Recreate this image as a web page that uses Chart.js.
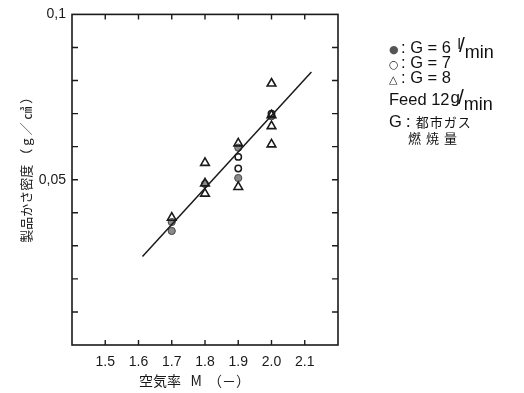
<!DOCTYPE html>
<html>
<head>
<meta charset="utf-8">
<script src="https://cdn.jsdelivr.net/npm/chart.js@4.4.1/dist/chart.umd.min.js"></script>
<style>
  html, body { margin: 0; padding: 0; background: #fff; }
  .wrap { position: relative; width: 524px; height: 393px; }
  canvas { position: absolute; left: 0; top: 0; }
  .legend { position: absolute; left: 389px; top: 0; font-family: "Liberation Sans", Arial, sans-serif; color: #111; font-size: 16.5px; }
  .legend div { position: absolute; white-space: nowrap; line-height: 16px; height: 16px; }
  .legend span { line-height: 0; }
  .sym { font-family: "DejaVu Sans", sans-serif; font-size: 11px; display: inline-block; width: 12px; }
  .frac-top { position: relative; top: -4px; font-size: 15px; margin-left: 2px; }
  .frac-slash { font-size: 21px; position: relative; left: -2px; top: -1px; }
  .frac-bot { position: relative; top: 5px; left: -2px; font-size: 18px; }
  .jp { font-family: "Noto Sans CJK JP", sans-serif; font-size: 13px; letter-spacing: 1px; }
</style>
</head>
<body>
<div class="wrap">
  <canvas id="chart" width="524" height="393"></canvas>
  <div class="legend">
    <div style="top:39px;"><span class="sym" style="color:#555;">●</span>: G = 6 <span class="frac-top">l</span><span class="frac-slash">/</span><span class="frac-bot">min</span></div>
    <div style="top:54px;"><span class="sym">○</span>: G = 7</div>
    <div style="top:69px;"><span class="sym">△</span>: G = 8</div>
    <div style="top:91px;">Feed 12<span class="frac-top" style="top:-2px; margin-left:1px; font-size:17px;">g</span><span class="frac-slash">/</span><span class="frac-bot">min</span></div>
    <div style="top:113px;">G<span class="jp">：都市ガス</span></div>
    <div style="top:129px; left:19px;"><span class="jp" style="letter-spacing:5px;">燃焼量</span></div>
  </div>
</div>
<script>
const xTickValues = [1.5, 1.6, 1.7, 1.8, 1.9, 2.0, 2.1];
const yTickLabels = { 10: "0,1", 5: "0,05" };

// G = 6 l/min (filled circles)
const g6X = [1.7, 1.7, 1.8, 1.9, 1.9, 2.0];
const g6Y = [0.0372, 0.0345, 0.0487, 0.0597, 0.0505, 0.0692];

// G = 7 (open circles)
const g7X = [1.9, 1.9, 2.0];
const g7Y = [0.0569, 0.0534, 0.0700];

// G = 8 (open triangles)
const g8X = [1.7, 1.8, 1.8, 1.8, 1.9, 1.9, 2.0, 2.0, 2.0, 2.0];
const g8Y = [0.0385, 0.0551, 0.0489, 0.0458, 0.0610, 0.0478, 0.0791, 0.0695, 0.0662, 0.0607];

// fitted line end points
const fitX = [1.612, 2.12];
const fitY = [0.0268, 0.0826];

const toPoints = (xs, ys) => xs.map((x, i) => ({ x, y: ys[i] }));
const ink = "#1a1a1a";

const frameTicks = {
  id: "frameTicks",
  afterDraw(chart) {
    const { ctx, chartArea: a, scales } = chart;
    ctx.save();
    ctx.strokeStyle = ink;
    ctx.lineWidth = 1.6;
    ctx.strokeRect(a.left, a.top, a.right - a.left, a.bottom - a.top);
    ctx.lineWidth = 1.4;
    ctx.beginPath();
    xTickValues.forEach((v) => {
      const px = scales.x.getPixelForValue(v);
      ctx.moveTo(px, a.bottom);
      ctx.lineTo(px, a.bottom - 5);
      ctx.moveTo(px, a.top);
      ctx.lineTo(px, a.top + 5);
    });
    scales.y.ticks.forEach((t) => {
      const py = scales.y.getPixelForValue(t.value);
      if (py <= a.top + 1 || py >= a.bottom - 1) return;
      ctx.moveTo(a.left, py);
      ctx.lineTo(a.left + 6, py);
      ctx.moveTo(a.right, py);
      ctx.lineTo(a.right - 6, py);
    });
    ctx.stroke();
    ctx.restore();
  }
};

new Chart(document.getElementById("chart"), {
  type: "scatter",
  data: {
    datasets: [
      {
        type: "line",
        label: "fit",
        data: toPoints(fitX, fitY),
        borderColor: ink,
        borderWidth: 1.5,
        pointRadius: 0,
        fill: false
      },
      {
        label: "G = 8",
        data: toPoints(g8X, g8Y),
        pointStyle: "triangle",
        pointRadius: 5,
        backgroundColor: "rgba(255,255,255,0)",
        borderColor: ink,
        borderWidth: 1.6
      },
      {
        label: "G = 7",
        data: toPoints(g7X, g7Y),
        pointStyle: "circle",
        pointRadius: 3.2,
        backgroundColor: "#ffffff",
        borderColor: ink,
        borderWidth: 1.5
      },
      {
        label: "G = 6",
        data: toPoints(g6X, g6Y),
        pointStyle: "circle",
        pointRadius: 3.6,
        backgroundColor: "#8a8a8a",
        borderColor: "#444",
        borderWidth: 1
      }
    ]
  },
  options: {
    responsive: false,
    animation: false,
    devicePixelRatio: 1,
    layout: { padding: { left: 0, right: 186, top: 14, bottom: 0 } },
    plugins: { legend: { display: false }, tooltip: { enabled: false } },
    scales: {
      x: {
        type: "linear",
        min: 1.4,
        max: 2.2,
        grid: { display: false, drawTicks: false },
        border: { display: false },
        afterFit(scale) { scale.height = 48; },
        afterBuildTicks(scale) {
          scale.ticks = [1.4].concat(xTickValues, [2.2]).map((v) => ({ value: v }));
        },
        ticks: {
          padding: 9,
          color: ink,
          font: { family: "Liberation Sans", size: 14 },
          callback(value) {
            const v = Math.round(value * 10) / 10;
            return xTickValues.includes(v) ? v.toFixed(1) : "";
          }
        },
        title: {
          display: true,
          text: "空気率   M  （－）　　",
          color: ink,
          padding: { top: 0, bottom: 4 },
          font: { family: "Noto Sans CJK JP", size: 14 }
        }
      },
      y: {
        type: "linear",
        min: 0,
        max: 0.1,
        grid: { display: false, drawTicks: false },
        border: { display: false },
        afterFit(scale) { scale.width = 72; },
        ticks: {
          stepSize: 0.01,
          padding: 6,
          color: ink,
          font: { family: "Liberation Sans", size: 14 },
          callback(value) {
            return yTickLabels[Math.round(value * 100)] || "";
          }
        },
        title: {
          display: true,
          text: "　　製品かさ密度 （ g ／ ㎤ ）",
          color: ink,
          padding: { top: 18, bottom: 0 },
          font: { family: "Noto Sans CJK JP", size: 13 }
        }
      }
    }
  },
  plugins: [frameTicks]
});
</script>
</body>
</html>
